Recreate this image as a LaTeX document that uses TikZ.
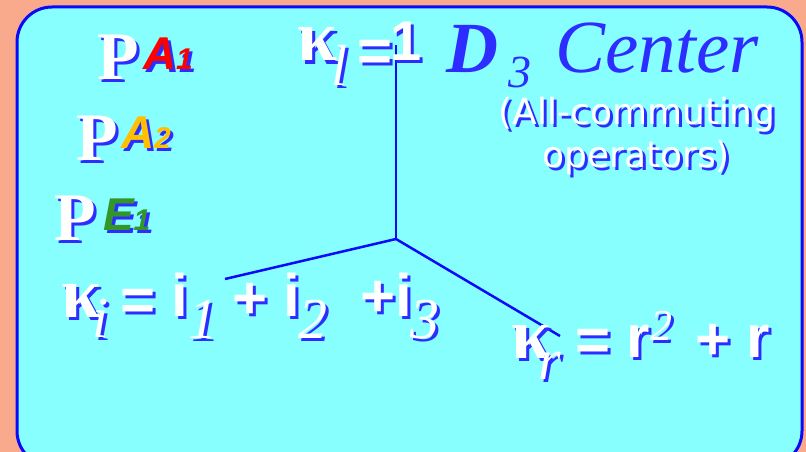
\documentclass[tikz,border=0pt]{standalone}
\usepackage{fontspec}
\setmainfont{Liberation Serif}
\setsansfont{Liberation Sans}
\newfontfamily\dejavu{DejaVu Sans}
\usetikzlibrary{positioning,calc}
\usepackage{xcolor}

\definecolor{salmon}{RGB}{250,170,140}
\definecolor{paneCyan}{RGB}{136,255,255}
\definecolor{rimBlue}{RGB}{10,10,250}
\definecolor{shadowblue}{RGB}{45,45,255}
\definecolor{titleBlue}{RGB}{45,45,255}
\definecolor{irA}{RGB}{255,0,0}
\definecolor{irB}{RGB}{255,192,0}
\definecolor{irE}{RGB}{50,150,40}

% white text with a blue drop shadow
\newcommand\shd[2][white]{\rlap{\hspace{3pt}\raisebox{-3pt}{\color{shadowblue}#2}}{\color{#1}#2}}
% irrep label with a smaller index
\newcommand\irrep[2]{#1{\fontsize{30}{30}\selectfont #2}}

\begin{document}
\begin{tikzpicture}[
    x=1pt, y=-1pt,
    txt/.style={inner sep=0pt, outer sep=0pt, anchor=base west},
    proj/.style={txt, font=\bfseries\fontsize{68}{68}\selectfont},
    irr/.style={txt, font=\sffamily\bfseries\itshape\fontsize{46}{46}\selectfont},
    kap/.style={txt, font=\bfseries\fontsize{72}{72}\selectfont},
    idx/.style={txt, font=\itshape\fontsize{58}{58}\selectfont},
    op/.style={txt, font=\sffamily\bfseries\fontsize{60}{60}\selectfont},
    axis/.style={line width=2.5pt, rimBlue}
]
    \useasboundingbox (0,0) rectangle (806,452);
    \fill[salmon] (0,0) rectangle (806,452);
    \draw[rimBlue, line width=3pt, fill=paneCyan, rounded corners=35pt]
        (17,7) rectangle (802,466);

    % the three class axes
    \coordinate (hub) at (396,239);
    \coordinate (axL) at (396,45);
    \coordinate (axI) at (225,279);
    \coordinate (axR) at (560,336);
    \draw[axis] (hub) -- (axL);
    \draw[axis] (hub) -- (axI);
    \draw[axis] (hub) -- (axR);

    % projectors
    \node[proj] (P1) at (97,79)  {\shd{P}};
    \node[proj] (P2) at (76,160) {\shd{P}};
    \node[proj] (P3) at (54,240) {\shd{P}};
    \node[irr] (A1) at (143,70)  {\shd[irA]{\irrep{A}{1}}};
    \node[irr] (A2) at (121,148) {\shd[irB]{\irrep{A}{2}}};
    \node[irr] (E1) at (103,230) {\shd[irE]{\irrep{E}{1}}};

    % kappa_l = 1
    \node[kap] (kl)  at (297,61) {\shd{κ}};
    \node[idx] (klS) at (331,85) {\shd{l}};
    \node[op]  (klE) at (357,71) {\shd{=}};
    \node[op, font=\sffamily\bfseries\fontsize{56}{56}\selectfont] (klV) at (390,60) {\shd{1}};

    % title
    \node[txt, titleBlue, font=\bfseries\itshape\fontsize{72}{72}\selectfont] (D) at (446,73) {D};
    \node[txt, titleBlue, font=\itshape\fontsize{46}{46}\selectfont] (D3) at (508,88) {3};
    \node[txt, titleBlue, font=\itshape\fontsize{75}{75}\selectfont] (Ctr) at (555,73) {Center};
    \node[inner sep=0pt, anchor=base, font=\dejavu\fontsize{36}{36}\selectfont] (note1) at (637,124) {\shd{(All-commuting}};
    \node[inner sep=0pt, anchor=base, font=\dejavu\fontsize{36}{36}\selectfont] (note2) at (636,167) {\shd{operators)}};

    % kappa_i = i_1 + i_2 + i_3
    \node[kap] (ki)   at (61,317)  {\shd{κ}};
    \node[idx] (kiS)  at (92,337)  {\shd{i}};
    \node[op]  (kiE)  at (120,320) {\shd{=}};
    \node[op]  (i1)   at (171,316) {\shd{i}};
    \node[idx] (i1S)  at (188,338) {\shd{1}};
    \node[op]  (pl1)  at (232,318) {\shd{+}};
    \node[op]  (i2)   at (283,316) {\shd{i}};
    \node[idx] (i2S)  at (298,338) {\shd{2}};
    \node[op]  (i3)   at (360,316) {\shd{+i}};
    \node[idx] (i3S)  at (410,338) {\shd{3}};

    % kappa_r = r^2 + r
    \node[kap] (kr)   at (511,358) {\shd{κ}};
    \node[idx] (krS)  at (538,379) {\shd{r}};
    \node[op]  (krE)  at (575,360) {\shd{=}};
    \node[op]  (r1)   at (626,357) {\shd{r}};
    \node[idx, font=\itshape\fontsize{44}{44}\selectfont] (r1S) at (650,340) {\shd{2}};
    \node[op]  (pl2)  at (695,359) {\shd{+}};
    \node[op]  (r2)   at (746,357) {\shd{r}};
\end{tikzpicture}
\end{document}
